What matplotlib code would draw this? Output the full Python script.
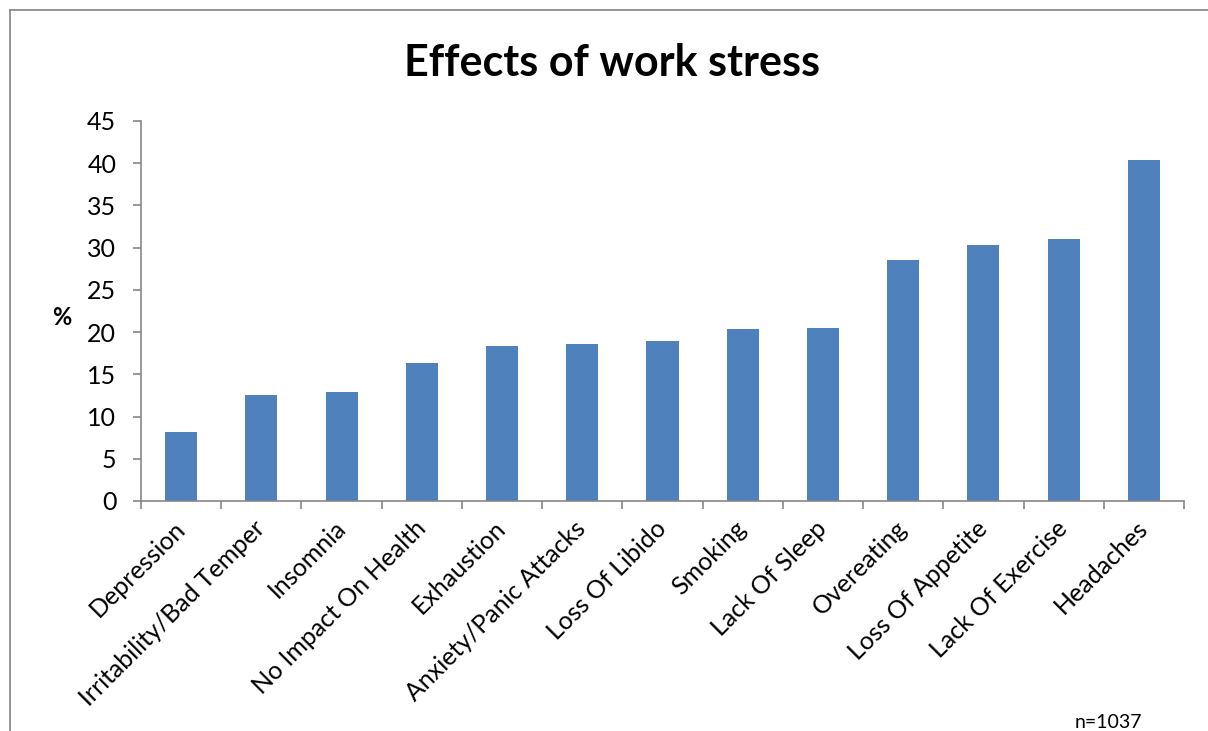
import numpy as np
import matplotlib.pyplot as plt
from matplotlib.lines import Line2D

# Data
categories = ["Depression", "Irritability/Bad Temper", "Insomnia", "No Impact On Health",
              "Exhaustion", "Anxiety/Panic Attacks", "Loss Of Libido", "Smoking",
              "Lack Of Sleep", "Overeating", "Loss Of Appetite", "Lack Of Exercise",
              "Headaches"]
values = [8.2, 12.5, 12.9, 16.3, 18.3, 18.6, 19.0, 20.4, 20.5, 28.5, 30.3, 31.0, 40.4]
yticks = [0, 5, 10, 15, 20, 25, 30, 35, 40, 45]

plt.rcParams['font.family'] = ['Lato', 'DejaVu Sans']

W, H = 1208, 731
fig = plt.figure(figsize=(W / 100, H / 100), dpi=100)
ax = fig.add_axes([141 / W, 1 - 501 / H, (1184 - 141) / W, (501 - 121) / H])

x = np.arange(len(categories))
ax.bar(x, values, width=0.4, color='#4F81BD', zorder=2)

ax.set_xlim(-0.5, len(categories) - 0.5)
ax.set_ylim(0, 45)
ax.set_yticks(yticks)
ax.set_yticklabels([str(v) for v in yticks], fontsize=18)

# category labels, tick marks between categories
ax.set_xticks(x)
ax.set_xticklabels(categories, rotation=45, ha='right', va='center',
                   rotation_mode='anchor', fontsize=18)
ax.tick_params(axis='x', which='major', length=0, pad=17)
ax.set_xticks(np.arange(-0.5, len(categories)), minor=True)
ax.tick_params(axis='x', which='minor', length=5.8, direction='out', color='#868686', width=1.2)
ax.tick_params(axis='y', length=5.8, direction='out', color='#868686', width=1.2, pad=12)

for s in ['top', 'right']:
    ax.spines[s].set_visible(False)
for s in ['left', 'bottom']:
    ax.spines[s].set_color('#868686')
    ax.spines[s].set_linewidth(1.2)

ax.set_ylabel('%', rotation=0, fontsize=17, fontweight='bold', ha='center', va='center')
ax.yaxis.set_label_coords(-0.0757, 0.484)

fig.text(612 / W, 1 - 63 / H, 'Effects of work stress', ha='center', va='center',
         fontsize=31, fontweight='bold')
fig.text(1108 / W, 1 - 714 / H, 'n=1037', ha='center', va='top', fontsize=14)

# chart border (left and top edges visible)
bx, by = 10 / W, 1 - 9.5 / H
fig.add_artist(Line2D([bx, bx], [0, by], color='#8C8C8C', lw=1.3, transform=fig.transFigure))
fig.add_artist(Line2D([bx, 1], [by, by], color='#8C8C8C', lw=1.3, transform=fig.transFigure))

fig.savefig('out.png', dpi=100)
